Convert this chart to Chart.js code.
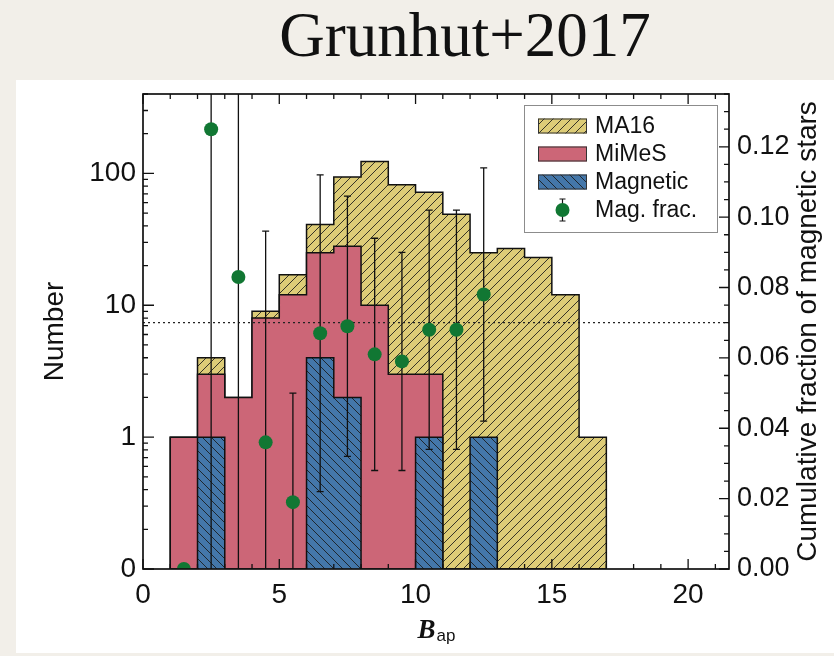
<!DOCTYPE html>
<html>
<head>
<meta charset="utf-8">
<script src="https://cdn.jsdelivr.net/npm/chart.js@4.4.1/dist/chart.umd.min.js"></script>
<style>
  html, body { margin: 0; padding: 0; }
  body { width: 834px; height: 656px; background: #f2efe9; position: relative; overflow: hidden; }
  #title {
    position: absolute; left: 465px; top: 4px; transform: translateX(-50%);
    font-family: "Liberation Serif", "Times New Roman", serif; font-size: 63px; line-height: 63px;
    color: #111; white-space: nowrap;
  }
  #panel { position: absolute; left: 16px; top: 80px; width: 818px; height: 573px; background: #fff; }
  #panel canvas { display: block; }
</style>
</head>
<body>
<div id="title">Grunhut+2017</div>
<div id="panel"><canvas id="chart" width="818" height="573"></canvas></div>
<script>
// ---- data -------------------------------------------------------------
// histogram bins (width 1 in B_ap), given by their centres
const binCenters = [1.5, 2.5, 3.5, 4.5, 5.5, 6.5, 7.5, 8.5, 9.5, 10.5, 11.5, 12.5, 13.5, 14.5, 15.5, 16.5];
const ma16Counts     = [1, 4, 2, 9, 17, 41, 94, 123, 82, 72, 49, 25, 27, 23, 12, 1];
const mimesCounts    = [1, 3, 2, 8, 12, 25, 28, 10, 3, 3, 0, 0, 0, 0, 0, 0];
const magneticCounts = [0, 1, 0, 0, 0, 4, 2, 0, 0, 1, 0, 1, 0, 0, 0, 0];

// magnetic fraction per bin with its 1-sigma uncertainty
const fracCenters    = [1.5, 2.5, 3.5, 4.5, 5.5, 6.5, 7.5, 8.5, 9.5, 10.5, 11.5, 12.5];
const magFraction    = [0.000, 0.125, 0.083, 0.036, 0.019, 0.067, 0.069, 0.061, 0.059, 0.068, 0.068, 0.078];
const magFractionErr = [0.000, 0.160, 0.100, 0.060, 0.031, 0.045, 0.037, 0.033, 0.031, 0.034, 0.034, 0.036];
const overallFraction = 0.07;

// axes
const xRange = [0, 21.5];
const xTickValues = [0, 5, 10, 15, 20];
const countRange = [0.1, 400];            // zero counts rest on the lower bound
const countTickValues = [0.1, 1, 10, 100];
const countTickLabels = ['0', '1', '10', '100'];
const fracRange = [0, 0.135];
const fracTickValues = [0, 0.02, 0.04, 0.06, 0.08, 0.10, 0.12];

// ---- styling helpers --------------------------------------------------
const canvas = document.getElementById('chart');
const mainCtx = canvas.getContext('2d');

function hatch(base, rising) {
  const s = 9;
  const c = document.createElement('canvas');
  c.width = s; c.height = s;
  const g = c.getContext('2d');
  g.fillStyle = base;
  g.fillRect(0, 0, s, s);
  g.strokeStyle = 'rgba(25,25,25,0.85)';
  g.lineWidth = 1;
  g.beginPath();
  if (rising) {
    g.moveTo(0, s); g.lineTo(s, 0);
    g.moveTo(-1, 1); g.lineTo(1, -1);
    g.moveTo(s - 1, s + 1); g.lineTo(s + 1, s - 1);
  } else {
    g.moveTo(0, 0); g.lineTo(s, s);
    g.moveTo(-1, s - 1); g.lineTo(1, s + 1);
    g.moveTo(s - 1, -1); g.lineTo(s + 1, 1);
  }
  g.stroke();
  return mainCtx.createPattern(c, 'repeat');
}

const SAND = '#DDCC77', ROSE = '#CC6677', BLUE = '#4477AA', GREEN = '#117733';
const ma16Fill = hatch(SAND, true);
const magneticFill = hatch(BLUE, false);

// step outline of a histogram: closed down to the axis floor at both ends
function stepOutline(counts) {
  const w = binCenters[1] - binCenters[0];
  const floor = countRange[0];
  const pts = [{ x: binCenters[0] - w / 2, y: floor }];
  counts.forEach((c, i) => pts.push({ x: binCenters[i] - w / 2, y: c > 0 ? c : floor }));
  pts.push({ x: binCenters[binCenters.length - 1] + w / 2, y: floor });
  return pts;
}

function histDataset(label, counts, fill, order) {
  return {
    label, data: stepOutline(counts), yAxisID: 'y', stepped: true,
    fill: 'start', backgroundColor: fill, borderColor: '#111', borderWidth: 1.5,
    pointRadius: 0, order
  };
}

// ---- plugins ----------------------------------------------------------
const FRAC_INDEX = 4;

const errorBars = {
  id: 'errorBars',
  beforeDatasetDraw(chart, args) {
    if (args.index !== FRAC_INDEX) return;
    const { ctx, chartArea: a, scales } = chart;
    ctx.save();
    ctx.beginPath();
    ctx.rect(a.left, a.top, a.width, a.height);
    ctx.clip();
    ctx.strokeStyle = '#111';
    ctx.lineWidth = 1.3;
    ctx.beginPath();
    fracCenters.forEach((xv, i) => {
      if (!magFractionErr[i]) return;
      const px = scales.x.getPixelForValue(xv);
      const hi = scales.y1.getPixelForValue(magFraction[i] + magFractionErr[i]);
      const lo = scales.y1.getPixelForValue(magFraction[i] - magFractionErr[i]);
      ctx.moveTo(px, hi); ctx.lineTo(px, lo);
      ctx.moveTo(px - 3.5, hi); ctx.lineTo(px + 3.5, hi);
      ctx.moveTo(px - 3.5, lo); ctx.lineTo(px + 3.5, lo);
    });
    ctx.stroke();
    ctx.restore();
  }
};

const frameAndTicks = {
  id: 'frameAndTicks',
  afterDatasetsDraw(chart) {
    const { ctx, chartArea: a, scales } = chart;
    ctx.save();
    ctx.strokeStyle = '#111';
    ctx.lineWidth = 1.3;
    ctx.beginPath();
    const xs = scales.x;
    for (let v = Math.ceil(xs.min); v <= xs.max; v++) {
      const px = xs.getPixelForValue(v);
      const len = v % 5 === 0 ? 10 : 5;
      ctx.moveTo(px, a.bottom); ctx.lineTo(px, a.bottom - len);
      ctx.moveTo(px, a.top); ctx.lineTo(px, a.top + len);
    }
    const ys = scales.y;
    for (let e = -1; e < 3; e++) {
      for (let m = 1; m < 10; m++) {
        const v = m * Math.pow(10, e);
        if (v > ys.max * 1.0001) break;
        const py = ys.getPixelForValue(v);
        const len = m === 1 ? 11 : 5;
        ctx.moveTo(a.left, py); ctx.lineTo(a.left + len, py);
      }
    }
    const rs = scales.y1;
    for (let k = 0; k * 0.005 <= rs.max + 1e-9; k++) {
      const py = rs.getPixelForValue(k * 0.005);
      const len = k % 4 === 0 ? 10 : 5;
      ctx.moveTo(a.right, py); ctx.lineTo(a.right - len, py);
    }
    ctx.stroke();
    ctx.lineWidth = 1.7;
    ctx.strokeRect(a.left, a.top, a.width, a.height);
    ctx.restore();
  }
};

const legendBox = {
  id: 'legendBox',
  afterDraw(chart) {
    const { ctx, chartArea: a } = chart;
    const w = 193, h = 127;
    const x0 = a.right - 12 - w, y0 = a.top + 11;
    ctx.save();
    ctx.fillStyle = '#fff';
    ctx.fillRect(x0, y0, w, h);
    ctx.strokeStyle = '#8c8c8c';
    ctx.lineWidth = 1;
    ctx.strokeRect(x0 + 0.5, y0 + 0.5, w, h);
    const ds = chart.data.datasets;
    const items = [ds[0], ds[1], ds[2], ds[FRAC_INDEX]];
    ctx.font = '23px "Liberation Sans", Arial, sans-serif';
    ctx.textBaseline = 'middle';
    ctx.textAlign = 'left';
    items.forEach((d, i) => {
      const cy = y0 + 21 + 28 * i;
      const sx = x0 + 14, sw = 49, sh = 15;
      if (i < 3) {
        ctx.fillStyle = d.backgroundColor;
        ctx.fillRect(sx, cy - sh / 2, sw, sh);
        ctx.strokeStyle = '#333';
        ctx.lineWidth = 1;
        ctx.strokeRect(sx + 0.5, cy - sh / 2 + 0.5, sw - 1, sh - 1);
      } else {
        const cx = sx + sw / 2;
        ctx.strokeStyle = '#111';
        ctx.lineWidth = 1.2;
        ctx.beginPath();
        ctx.moveTo(cx, cy - 11); ctx.lineTo(cx, cy + 11);
        ctx.moveTo(cx - 3, cy - 11); ctx.lineTo(cx + 3, cy - 11);
        ctx.moveTo(cx - 3, cy + 11); ctx.lineTo(cx + 3, cy + 11);
        ctx.stroke();
        ctx.fillStyle = d.pointBackgroundColor;
        ctx.beginPath();
        ctx.arc(cx, cy, 7, 0, Math.PI * 2);
        ctx.fill();
      }
      ctx.fillStyle = '#111';
      ctx.fillText(d.label, x0 + 71, cy + 1);
    });
    ctx.restore();
  }
};

const axisTitles = {
  id: 'axisTitles',
  afterDraw(chart) {
    const { ctx, chartArea: a } = chart;
    ctx.save();
    ctx.fillStyle = '#111';
    // x title: B with subscript "ap"
    const bFont = 'italic bold 27px "Liberation Serif", "Times New Roman", serif';
    const sFont = '17px "Liberation Sans", Arial, sans-serif';
    ctx.font = bFont;
    const bw = ctx.measureText('B').width;
    ctx.font = sFont;
    const sw = ctx.measureText('ap').width;
    const left = (a.left + a.right) / 2 - (bw + sw) / 2;
    ctx.textBaseline = 'alphabetic';
    ctx.textAlign = 'left';
    ctx.font = bFont;
    ctx.fillText('B', left, 558);
    ctx.font = sFont;
    ctx.fillText('ap', left + bw + 1, 561);
    // right axis title, reading upwards
    ctx.font = '28px "Liberation Sans", Arial, sans-serif';
    ctx.translate(a.right + 79, (a.top + a.bottom) / 2);
    ctx.rotate(-Math.PI / 2);
    ctx.textAlign = 'center';
    ctx.textBaseline = 'middle';
    ctx.fillText('Cumulative fraction of magnetic stars', 0, 0);
    ctx.restore();
  }
};

// ---- chart ------------------------------------------------------------
Chart.defaults.font.family = '"Liberation Sans", Arial, sans-serif';
Chart.defaults.color = '#111';

const tickFont = { size: 28 };

new Chart(canvas, {
  type: 'line',
  data: {
    datasets: [
      histDataset('MA16', ma16Counts, ma16Fill, 5),
      histDataset('MiMeS', mimesCounts, ROSE, 4),
      histDataset('Magnetic', magneticCounts, magneticFill, 3),
      {
        label: 'overall fraction', yAxisID: 'y1',
        data: xRange.map(x => ({ x, y: overallFraction })),
        borderColor: '#222', borderWidth: 1.3, borderDash: [2, 3],
        pointRadius: 0, fill: false, order: 2
      },
      {
        label: 'Mag. frac.', yAxisID: 'y1', showLine: false,
        data: fracCenters.map((x, i) => ({ x, y: magFraction[i] })),
        pointRadius: 7, pointBackgroundColor: GREEN, pointBorderWidth: 0,
        borderColor: GREEN, order: 1
      }
    ]
  },
  options: {
    responsive: false,
    animation: false,
    devicePixelRatio: 1,
    events: [],
    layout: { padding: { top: 14, left: 0, right: 0, bottom: 0 } },
    plugins: { legend: { display: false }, tooltip: { enabled: false } },
    scales: {
      x: {
        type: 'linear', position: 'bottom', min: xRange[0], max: xRange[1],
        grid: { display: false, drawTicks: false }, border: { display: false },
        afterBuildTicks: s => { s.ticks = xTickValues.map(value => ({ value })); },
        ticks: { font: tickFont, padding: 9, maxRotation: 0, callback: v => String(v) },
        afterFit: s => { s.height = 84; s.paddingLeft = 0; s.paddingRight = 0; }
      },
      y: {
        type: 'logarithmic', position: 'left', min: countRange[0], max: countRange[1],
        grid: { display: false, drawTicks: false }, border: { display: false },
        afterBuildTicks: s => { s.ticks = countTickValues.map(value => ({ value })); },
        ticks: { font: tickFont, padding: 7, callback: (v, i) => countTickLabels[i] },
        title: { display: true, text: 'Number', font: { size: 28 }, padding: { top: 22 } },
        afterFit: s => { s.width = 127; s.paddingTop = 0; s.paddingBottom = 0; }
      },
      y1: {
        type: 'linear', position: 'right', min: fracRange[0], max: fracRange[1],
        grid: { display: false, drawTicks: false }, border: { display: false },
        afterBuildTicks: s => { s.ticks = fracTickValues.map(value => ({ value })); },
        ticks: { font: { size: 27 }, padding: 8, callback: v => v.toFixed(2) },
        afterFit: s => { s.width = 105; s.paddingTop = 0; s.paddingBottom = 0; }
      }
    }
  },
  plugins: [errorBars, frameAndTicks, legendBox, axisTitles]
});
</script>
</body>
</html>
